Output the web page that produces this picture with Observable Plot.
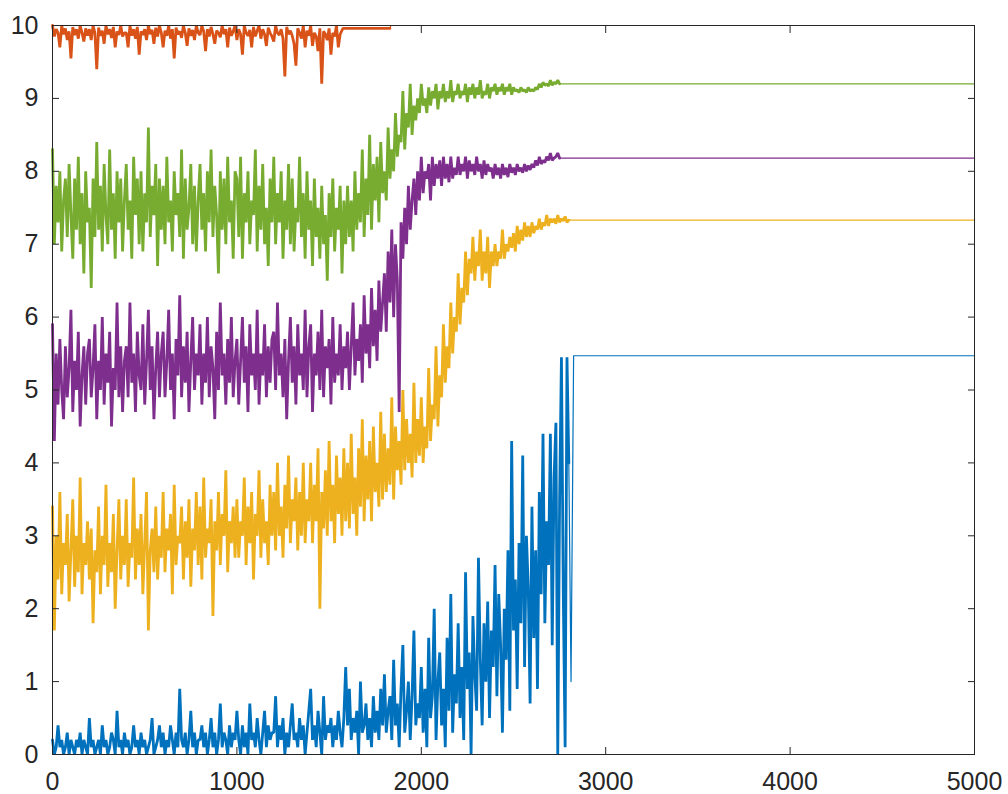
<!DOCTYPE html>
<html><head><meta charset="utf-8">
<script src="https://cdn.jsdelivr.net/npm/d3@7"></script>
<script src="https://cdn.jsdelivr.net/npm/@observablehq/plot@0.6"></script>
<style>body{margin:0;background:#fff;}#chart{width:1008px;height:794px;}</style>
</head><body><div id="chart"></div>
<script>
// iteration step between recorded samples
const step = 10;
const xTicks = [0, 1000, 2000, 3000, 4000, 5000];
const yTicks = [0, 1, 2, 3, 4, 5, 6, 7, 8, 9, 10];

const blueY = [
0.2,0.0,0.1,0.4,0.1,0.2,0.0,0.1,0.3,0.0, 0.2,0.1,0.0,0.2,0.1,0.3,0.0,0.2,0.1,0.0,
0.5,0.1,0.2,0.0,0.1,0.2,0.0,0.4,0.1,0.2, 0.0,0.1,0.3,0.2,0.0,0.6,0.1,0.2,0.0,0.3,
0.1,0.2,0.0,0.1,0.4,0.1,0.2,0.0,0.3,0.1, 0.2,0.0,0.1,0.2,0.5,0.0,0.1,0.2,0.4,0.1,
0.3,0.0,0.2,0.1,0.4,0.2,0.0,0.3,0.1,0.9, 0.2,0.1,0.3,0.0,0.2,0.6,0.1,0.3,0.0,0.2,
0.2,0.4,0.1,0.3,0.0,0.2,0.5,0.1,0.3,0.0, 0.2,0.7,0.1,0.3,0.2,0.0,0.4,0.1,0.3,0.2,
0.6,0.2,0.0,0.4,0.1,0.3,0.0,0.7,0.2,0.3, 0.1,0.5,0.2,0.0,0.3,0.6,0.1,0.4,0.2,0.3,
0.3,0.8,0.1,0.4,0.2,0.5,0.0,0.3,0.1,0.4, 0.7,0.2,0.3,0.1,0.5,0.2,0.4,0.0,0.3,0.6,
0.9,0.2,0.4,0.1,0.6,0.3,0.0,0.8,0.2,0.4, 0.3,0.5,0.1,0.4,0.2,0.6,0.3,0.1,0.5,1.2,
0.4,0.9,0.2,0.5,0.3,0.6,0.0,1.0,0.3,0.4, 0.7,0.2,0.5,0.1,0.8,0.3,0.6,0.2,0.9,0.4,
1.1,0.3,0.6,0.8,0.2,1.3,0.4,0.7,0.1,0.9, 1.5,0.3,0.6,1.0,0.2,0.8,1.7,0.4,0.7,0.5,
1.2,0.3,0.9,0.1,1.6,0.5,0.8,2.0,0.2,1.0, 1.4,0.4,0.9,0.1,1.6,0.6,2.2,0.3,1.1,0.7,
1.8,0.5,1.2,0.2,2.5,0.9,1.4,0.0,1.9,1.1, 0.6,2.7,1.3,0.4,1.8,1.0,2.1,0.5,1.7,1.2,
2.6,0.8,2.2,1.5,0.3,2.0,1.3,2.8,0.6,4.3, 1.7,2.4,0.9,2.9,1.8,4.1,1.2,3.0,2.3,0.7,
3.4,1.6,2.8,0.9,3.6,2.2,4.4,1.8,3.2,2.6, 4.4,1.5,3.8,4.55,0.0,3.5,5.45,2.2,0.1,5.45, 4.0];
const blueTailX = [2812, 2826, 5000];
const blueTailY = [1.0, 5.47, 5.47];

const redY = [
10.0,9.85,9.95,9.9,9.7,10.0,9.88,9.96,9.8,9.92, 9.55,9.98,9.87,9.95,9.82,10.0,9.9,9.78,9.96,9.86,
9.95,9.8,10.0,9.9,9.4,9.97,9.86,9.93,9.75,10.0, 9.88,9.95,9.83,9.98,9.7,9.92,9.87,10.0,9.85,9.9,
9.9,9.7,10.0,9.86,9.95,9.82,9.98,9.6,9.92,9.87, 9.95,9.8,10.0,9.88,9.94,9.75,9.97,9.85,10.0,9.9,
9.7,9.93,9.86,10.0,9.82,9.95,9.55,9.97,9.88,9.92, 9.83,10.0,9.9,9.72,9.96,9.86,9.94,9.8,10.0,9.9,
9.87,10.0,9.92,9.65,9.95,9.85,9.98,9.88,9.75,9.93, 9.9,9.84,10.0,9.88,9.95,9.7,9.97,9.86,9.92,10.0,
9.8,9.95,9.88,9.6,10.0,9.9,9.86,9.94,9.7,9.98, 9.85,9.93,10.0,9.82,9.95,9.88,9.72,9.97,9.9,9.85,
9.78,10.0,9.9,9.87,9.95,9.82,9.3,9.98,9.88,9.93, 9.86,9.75,9.45,9.96,9.9,9.82,10.0,9.7,9.93,9.86,
10.0,9.72,9.9,9.85,9.65,9.96,9.2,9.92,9.88,9.8, 9.96,9.6,9.9,9.85,10.0,9.7,9.88];
const redTailX = [1575, 1830, 1835, 5000];
const redTailY = [9.96, 9.96, 10.0, 10.0];

const yellowY = [
3.4,1.7,3.0,2.4,3.6,2.2,2.9,2.6,3.3,2.1, 2.8,3.5,2.3,3.0,2.5,3.8,2.2,2.9,2.6,3.2,
2.4,3.1,1.8,2.8,2.5,3.4,2.2,3.0,2.6,3.7, 2.3,2.9,2.5,3.3,2.0,2.8,3.5,2.4,3.0,2.6,
3.5,2.3,2.9,2.7,3.8,2.4,3.1,2.6,3.3,2.2, 2.9,3.6,1.7,2.8,3.1,2.5,3.4,2.4,3.0,2.7,
3.6,2.5,3.1,2.8,3.3,2.2,3.7,2.6,3.0,2.9, 3.4,2.4,3.2,2.7,3.5,2.3,3.1,2.8,3.6,2.6,
3.4,2.4,3.8,2.7,3.1,2.9,3.5,1.9,3.2,2.8, 3.6,2.6,3.3,3.0,3.9,2.5,3.2,2.9,3.4,2.7,
3.5,2.7,3.2,3.0,3.8,2.6,3.4,2.9,3.6,2.4, 3.3,3.0,3.9,2.7,3.5,2.9,3.2,2.6,3.7,3.0,
3.6,2.8,4.0,3.0,3.4,2.7,3.7,3.1,4.1,2.9, 3.5,3.2,3.8,2.8,3.6,3.0,4.0,2.9,3.5,3.2,
4.0,2.9,3.7,3.2,4.2,2.0,3.6,3.1,3.9,3.0, 4.3,3.2,3.7,2.9,4.1,3.3,3.8,3.0,4.2,3.2,
4.0,3.1,4.4,3.3,3.8,3.0,4.2,3.4,4.6,3.2, 4.1,3.5,4.3,3.2,4.5,3.6,4.0,3.4,4.7,3.5,
4.4,3.6,4.2,3.7,4.9,3.5,4.5,3.9,4.3,3.7, 5.0,3.9,4.6,4.0,4.4,3.8,5.1,4.0,4.6,4.1,
4.9,4.0,4.5,4.2,5.3,4.3,4.8,4.6,5.6,4.5, 5.2,4.9,5.9,5.1,5.6,5.3,6.2,5.5,6.0,5.8,
6.6,5.9,6.4,6.2,6.9,6.3,6.8,6.6,7.1,6.5, 6.9,6.7,7.2,6.5,6.9,6.6,7.1,6.4,6.9,6.7,
7.0,6.7,6.9,6.8,7.2,6.8,7.0,6.9,7.1,6.95, 7.15,6.9,7.25,7.0,7.2,7.05,7.3,7.1,7.25,7.1,
7.3,7.15,7.25,7.2,7.35,7.2,7.3,7.25,7.4,7.25, 7.35,7.3,7.35,7.28,7.4,7.3,7.35,7.32,7.38,7.3, 7.33];
const yellowTailX = [2830, 5000];
const yellowTailY = [7.33, 7.33];

const purpleY = [
5.9,4.3,5.5,4.8,5.7,5.0,4.6,5.6,4.9,5.3, 6.1,4.7,5.4,5.0,5.8,4.5,5.2,5.6,4.8,5.5,
5.7,4.9,5.3,5.9,4.6,5.4,5.0,6.0,4.8,5.5, 5.1,5.8,4.5,5.3,5.0,6.2,4.9,5.6,4.7,5.4,
5.6,4.9,6.2,5.1,5.5,4.7,5.8,5.2,5.0,5.9, 4.8,5.4,6.1,5.0,5.6,4.6,5.3,5.8,4.9,5.5,
5.8,4.9,5.4,6.1,5.0,5.5,4.6,5.7,5.2,6.3, 4.9,5.6,5.1,5.8,4.7,5.4,6.0,5.0,5.5,5.2,
5.9,4.8,5.5,5.1,6.0,4.9,5.6,5.3,4.6,5.8, 5.0,6.2,5.2,5.5,4.8,5.7,5.1,6.0,4.9,5.4,
5.7,4.8,5.4,6.0,5.1,5.6,4.7,5.9,5.2,5.5, 5.0,6.1,4.8,5.5,5.2,5.9,4.9,5.6,5.1,5.7,
5.8,5.0,6.2,5.2,5.5,4.9,5.7,4.6,5.4,6.0, 5.1,5.6,4.8,5.9,5.2,5.5,5.0,6.1,4.9,5.6,
5.9,4.7,5.5,5.2,5.8,5.0,6.1,4.9,5.6,5.3, 5.7,4.8,6.0,5.1,5.5,5.2,5.9,5.0,5.6,5.3,
5.8,5.0,5.6,6.2,5.2,5.7,5.4,5.9,5.1,6.3, 5.5,5.9,5.3,6.4,5.6,6.1,5.4,6.5,5.8,6.2,
6.6,5.8,6.9,6.2,7.2,6.0,7.0,6.5,4.7,7.3, 6.8,7.5,7.0,7.8,7.2,7.6,7.9,7.4,8.0,7.6,
8.2,7.7,8.0,7.9,8.1,7.6,8.2,7.8,8.1,7.9, 8.15,7.8,8.2,7.9,8.1,7.85,8.2,7.9,8.05,7.95,
8.2,7.95,8.1,8.0,8.2,7.9,8.15,8.0,8.1,7.95, 8.2,8.0,8.1,7.9,8.15,7.95,8.1,8.0,8.05,7.9,
8.1,7.95,8.05,7.9,8.1,7.95,8.05,7.92,8.1,7.98, 8.05,7.95,8.1,8.0,8.05,7.98,8.1,8.0,8.08,8.02,
8.1,8.05,8.15,8.08,8.2,8.1,8.15,8.12,8.2,8.15, 8.25,8.15,8.18,8.2,8.25,8.18];
const purpleTailX = [2760, 5000];
const purpleTailY = [8.18, 8.18];

const greenY = [
8.3,7.0,7.8,7.3,8.0,6.9,7.6,7.9,7.1,8.1, 7.4,6.8,7.9,7.2,8.2,7.0,7.7,6.6,8.0,7.3,
7.5,6.4,7.9,7.1,8.4,7.2,7.8,6.9,8.1,7.4, 7.0,8.3,7.2,7.7,6.8,8.0,7.3,7.9,6.9,7.6,
8.1,7.2,7.6,6.8,8.2,7.4,7.9,7.0,8.0,6.9, 7.7,7.3,8.6,7.1,7.8,7.4,8.1,6.7,7.9,7.2,
7.8,7.0,8.2,7.3,7.6,6.9,8.0,7.4,7.7,7.1, 8.3,6.8,7.9,7.2,7.5,8.1,7.0,7.8,6.9,7.6,
8.1,7.2,7.7,6.9,8.0,7.3,8.3,7.1,7.8,7.4, 6.6,8.0,7.2,7.9,7.0,8.2,7.3,7.6,6.8,8.0,
7.9,7.1,8.2,6.8,7.7,7.3,8.0,7.0,7.6,7.4, 8.3,6.9,7.8,7.2,8.1,7.0,7.5,6.7,7.9,7.3,
8.2,7.0,7.7,7.3,8.0,6.8,7.6,7.2,8.1,7.0, 7.9,6.9,7.5,7.3,8.2,7.1,7.7,6.8,8.0,7.2,
7.6,6.7,7.9,7.1,7.5,6.8,7.8,7.0,7.4,6.5, 7.7,7.1,7.9,6.9,7.5,7.2,7.8,6.6,7.6,7.0,
7.8,7.1,7.6,6.9,8.0,7.2,7.7,7.3,8.3,7.1, 7.9,7.4,8.5,7.2,8.1,7.6,8.2,7.3,8.4,7.7,
8.0,7.6,8.6,7.9,8.3,8.0,8.8,8.2,8.5,8.4, 9.1,8.3,8.8,8.6,9.2,8.5,8.9,8.7,9.0,8.8,
9.2,8.9,9.0,8.8,9.15,8.9,9.1,9.0,9.2,8.85, 9.1,9.0,9.2,8.95,9.1,9.0,9.25,8.95,9.1,9.05,
9.2,9.0,9.1,9.05,9.2,8.95,9.15,9.05,9.2,9.0, 9.15,9.05,9.25,9.0,9.1,9.05,9.2,9.0,9.15,9.1,
9.2,9.05,9.15,9.1,9.2,9.05,9.15,9.1,9.2,9.05, 9.15,9.1,9.12,9.08,9.15,9.1,9.12,9.08,9.15,9.1,
9.12,9.1,9.15,9.12,9.2,9.15,9.22,9.18,9.2,9.17, 9.25,9.18,9.22,9.2,9.25,9.2];
const greenTailX = [2760, 5000];
const greenTailY = [9.2, 9.2];

// thinFrom: x from which the trace is a single settled line (drawn with a thin pen)
const seriesList = [
  {name: "s1", color: "#0072BD", y: blueY, tx: blueTailX, ty: blueTailY, thinFrom: 2805},
  {name: "s2", color: "#D95319", y: redY, tx: redTailX, ty: redTailY, thinFrom: 1835},
  {name: "s3", color: "#EDB120", y: yellowY, tx: yellowTailX, ty: yellowTailY, thinFrom: 2830},
  {name: "s4", color: "#7E2F8E", y: purpleY, tx: purpleTailX, ty: purpleTailY, thinFrom: 2760},
  {name: "s5", color: "#77AC30", y: greenY, tx: greenTailX, ty: greenTailY, thinFrom: 2760}
];

function rowsOf(s) {
  const r = s.y.map((v, i) => ({x: i * step, y: v}));
  s.tx.forEach((x, i) => r.push({x, y: s.ty[i]}));
  return r;
}

const ink = "#262626";
const font = "Liberation Sans, Arial, Helvetica, sans-serif";
const fmt = d => String(d);

const lineMarks = [];
for (const s of seriesList) {
  const rows = rowsOf(s);
  const k = rows.findIndex(d => d.x >= s.thinFrom);
  const dense = rows.slice(0, k);
  const settled = rows.slice(k - 1);
  lineMarks.push(Plot.line(dense, {x: "x", y: "y", stroke: s.color, strokeWidth: 2.8, strokeLinejoin: "miter"}));
  lineMarks.push(Plot.line(settled, {x: "x", y: "y", stroke: s.color, strokeWidth: 1.2}));
}

const chart = Plot.plot({
  width: 1008,
  height: 794,
  marginLeft: 52,
  marginRight: 34,
  marginTop: 25,
  marginBottom: 40,
  style: {fontFamily: font, fontSize: "25px", color: ink, background: "#fff", overflow: "visible"},
  x: {domain: [0, 5000]},
  y: {domain: [0, 10]},
  marks: [
    ...lineMarks,
    Plot.frame({stroke: ink, strokeWidth: 1}),
    Plot.axisX({anchor: "bottom", ticks: xTicks, tickSize: 0, tickPadding: 18, tickFormat: fmt, fontSize: 25, fill: ink, label: null}),
    Plot.axisY({anchor: "left", ticks: yTicks, tickSize: 0, tickPadding: 14, tickFormat: fmt, fontSize: 25, fill: ink, label: null}),
    Plot.axisX({anchor: "bottom", ticks: xTicks, tickSize: -7, tickFormat: () => "", stroke: ink, label: null}),
    Plot.axisX({anchor: "top", ticks: xTicks, tickSize: -7, tickFormat: () => "", stroke: ink, label: null}),
    Plot.axisY({anchor: "left", ticks: yTicks, tickSize: -7, tickFormat: () => "", stroke: ink, label: null}),
    Plot.axisY({anchor: "right", ticks: yTicks, tickSize: -7, tickFormat: () => "", stroke: ink, label: null})
  ]
});
document.getElementById("chart").appendChild(chart);
</script></body></html>
